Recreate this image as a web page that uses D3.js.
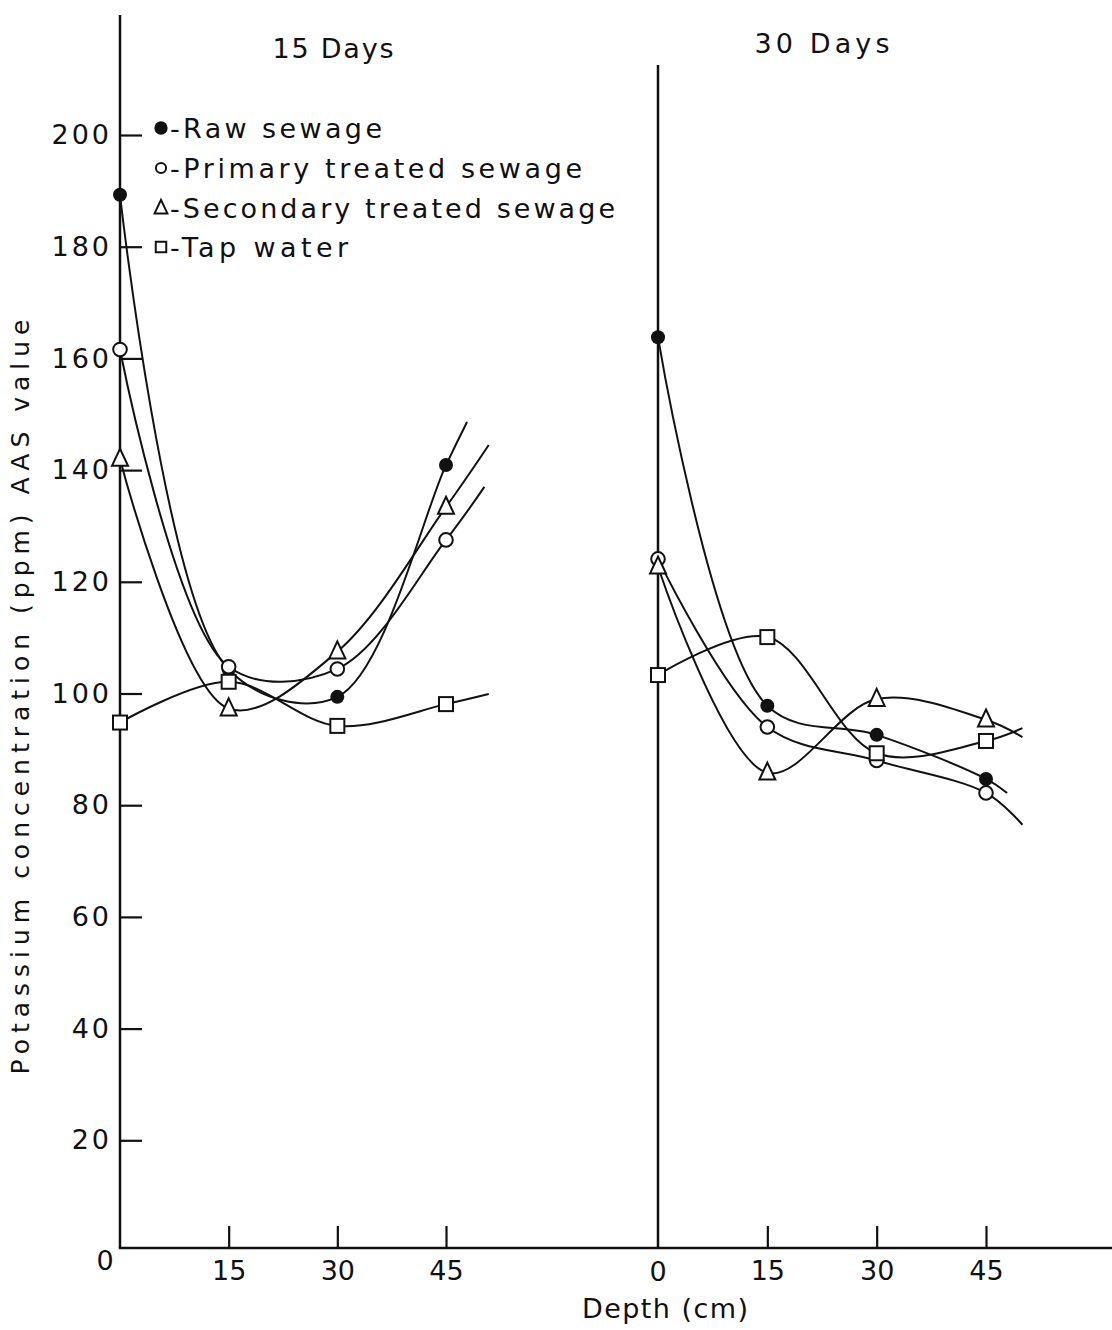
<!DOCTYPE html>
<html>
<head>
<meta charset="utf-8">
<script src="https://cdn.jsdelivr.net/npm/d3@7"></script>
<style>
  html, body { margin: 0; padding: 0; background: #fff; }
  svg { display: block; }
  text { font-family: "DejaVu Sans", sans-serif; fill: #111; }
</style>
</head>
<body>
<script>
// ---------------- data ----------------
const depths = [0, 15, 30, 45];
const seriesNames = ["Raw sewage", "Primary treated sewage", "Secondary treated sewage", "Tap water"];
const seriesSymbols = ["filledCircle", "circle", "triangle", "square"];
const panelTitles = ["15 Days", "30 Days"];

// 15 days
const d15Raw       = [189.3, 104.3, 99.4, 140.9];
const d15Primary   = [161.6, 104.8, 104.4, 127.5];
const d15Secondary = [142.0, 97.3, 107.5, 133.4];
const d15Tap       = [94.8, 102.1, 94.2, 98.1];
// 30 days
const d30Raw       = [163.8, 97.8, 92.6, 84.7];
const d30Primary   = [124.1, 94.0, 88.0, 82.2];
const d30Secondary = [122.7, 85.8, 99.0, 95.3];
const d30Tap       = [103.3, 110.1, 89.3, 91.5];

// hand-drawn curve tails beyond the last measured depth (depth, value)
const d15TailDepth = [47.9, 50.3, 50.9, 50.9];
const d15TailValue = [148.6, 137.0, 144.5, 99.9];
const d30TailDepth = [47.9, 50.0, 50.0, 50.0];
const d30TailValue = [82.2, 76.5, 92.2, 93.8];

const yTicks = [20, 40, 60, 80, 100, 120, 140, 160, 180, 200];
const xTicks = [15, 30, 45];
const xTickLabels = ["15", "30", "45"];

// ---------------- layout ----------------
const W = 1112, H = 1330;
const svg = d3.select("body").append("svg").attr("width", W).attr("height", H);

const y = d3.scaleLinear().domain([0, 200]).range([1252, 135]);
const xL = d3.scaleLinear().domain([0, 45]).range([120, 446]);
const xR = d3.scaleLinear().domain([0, 45]).range([658, 986]);
const axisY = 1248;
const FS = 27;

const stroke = "#111";

// axes lines
svg.append("line").attr("x1", 120).attr("x2", 120).attr("y1", 15).attr("y2", axisY)
  .attr("stroke", stroke).attr("stroke-width", 2.5);
svg.append("line").attr("x1", 658).attr("x2", 658).attr("y1", 65).attr("y2", axisY)
  .attr("stroke", stroke).attr("stroke-width", 2.5);
svg.append("line").attr("x1", 118.8).attr("x2", 1112).attr("y1", axisY).attr("y2", axisY)
  .attr("stroke", stroke).attr("stroke-width", 2.5);

// y axis ticks (inward) and labels
const yAxis = d3.axisLeft(y).tickValues(yTicks).tickSize(-22).tickPadding(8).tickFormat(d => d);
const gy = svg.append("g").attr("transform", "translate(120,0)").call(yAxis);
gy.select(".domain").remove();
gy.selectAll(".tick line").attr("stroke", stroke).attr("stroke-width", 2.2);
gy.selectAll(".tick text").style("font-family", "DejaVu Sans").style("font-size", FS + "px")
  .style("letter-spacing", "3px").attr("fill", "#111");
svg.append("text").attr("x", 105).attr("y", 1270).attr("text-anchor", "middle")
  .style("font-size", FS + "px").text("0");

// x axes
function xAxisFor(scale) {
  const ax = d3.axisBottom(scale).tickValues(xTicks).tickSize(-22).tickPadding(13)
    .tickFormat((d, i) => xTickLabels[i]);
  const g = svg.append("g").attr("transform", `translate(0,${axisY})`).call(ax);
  g.select(".domain").remove();
  g.selectAll(".tick line").attr("stroke", stroke).attr("stroke-width", 2.2);
  g.selectAll(".tick text").style("font-family", "DejaVu Sans").style("font-size", FS + "px")
    .attr("fill", "#111");
}
xAxisFor(xL);
xAxisFor(xR);
svg.append("text").attr("x", xR(0)).attr("y", 1281).attr("text-anchor", "middle")
  .style("font-size", FS + "px").text("0");

// axis titles
svg.append("text").attr("x", 665).attr("y", 1318).attr("text-anchor", "middle")
  .style("font-size", FS + "px").attr("textLength", 166).attr("lengthAdjust", "spacing").text("Depth (cm)");
svg.append("text").attr("transform", "translate(29,697) rotate(-90)").attr("text-anchor", "middle")
  .style("font-size", "25px").attr("textLength", 755).attr("lengthAdjust", "spacing")
  .text("Potassium concentration (ppm) AAS value");

// panel titles
svg.append("text").attr("x", 333).attr("y", 58).attr("text-anchor", "middle")
  .style("font-size", FS + "px").attr("textLength", 121).attr("lengthAdjust", "spacing").text(panelTitles[0]);
svg.append("text").attr("x", 822).attr("y", 53).attr("text-anchor", "middle")
  .style("font-size", FS + "px").attr("textLength", 135).attr("lengthAdjust", "spacing").text(panelTitles[1]);

// ---------------- series ----------------
const panels = [
  { x: xL, values: [d15Raw, d15Primary, d15Secondary, d15Tap], tailD: d15TailDepth, tailV: d15TailValue },
  { x: xR, values: [d30Raw, d30Primary, d30Secondary, d30Tap], tailD: d30TailDepth, tailV: d30TailValue }
];

function drawSymbol(g, type, cx, cy, scale) {
  const s = scale || 1;
  if (type === "filledCircle") {
    g.append("circle").attr("cx", cx).attr("cy", cy).attr("r", 7 * s).attr("fill", "#111");
  } else if (type === "circle") {
    g.append("circle").attr("cx", cx).attr("cy", cy).attr("r", 6.8 * s)
      .attr("fill", "#fff").attr("stroke", stroke).attr("stroke-width", 2);
  } else if (type === "triangle") {
    const h = 17 * s, w = 16 * s;
    g.append("path").attr("d", `M${cx},${cy - h * 0.6}L${cx + w / 2},${cy + h * 0.4}L${cx - w / 2},${cy + h * 0.4}Z`)
      .attr("fill", "#fff").attr("stroke", stroke).attr("stroke-width", 2);
  } else if (type === "square") {
    const a = 14 * s;
    g.append("rect").attr("x", cx - a / 2).attr("y", cy - a / 2).attr("width", a).attr("height", a)
      .attr("fill", "#fff").attr("stroke", stroke).attr("stroke-width", 2);
  }
}

const line = d3.line().curve(d3.curveCatmullRom.alpha(0.5));

panels.forEach(p => {
  const gl = svg.append("g");
  p.values.forEach((vals, si) => {
    const pts = depths.map((d, i) => [p.x(d), y(vals[i])]);
    pts.push([p.x(p.tailD[si]), y(p.tailV[si])]);
    gl.append("path").attr("d", line(pts)).attr("fill", "none")
      .attr("stroke", stroke).attr("stroke-width", 2);
  });
});
panels.forEach(p => {
  const gm = svg.append("g");
  p.values.forEach((vals, si) => {
    depths.forEach((d, i) => drawSymbol(gm, seriesSymbols[si], p.x(d), y(vals[i])));
  });
});

// ---------------- legend ----------------
const legendBase = [138, 178, 218, 257];
const legendWidths = [212, 412, 445, 178];
const legendSymScale = [0.95, 0.75, 0.8, 0.75];
const lg = svg.append("g");
seriesNames.forEach((name, i) => {
  const b = legendBase[i];
  drawSymbol(lg, seriesSymbols[i], 161, b - 10, legendSymScale[i]);
  lg.append("text").attr("x", 170).attr("y", b)
    .style("font-size", FS + "px").attr("textLength", legendWidths[i]).attr("lengthAdjust", "spacing")
    .text("-" + name);
});
</script>
</body>
</html>
